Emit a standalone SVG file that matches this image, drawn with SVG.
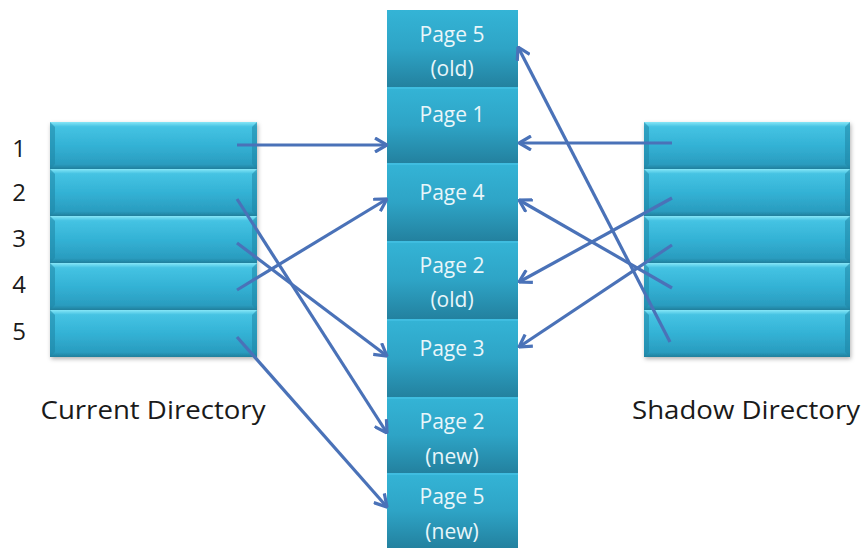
<svg xmlns="http://www.w3.org/2000/svg" width="868" height="548" viewBox="0 0 868 548">
<defs>
<linearGradient id="rowG" x1="0" y1="0" x2="0" y2="1">
<stop offset="0" stop-color="#86e6f7"/>
<stop offset="0.1" stop-color="#45c3e3"/>
<stop offset="0.5" stop-color="#33b2d5"/>
<stop offset="0.9" stop-color="#2a9cbf"/>
<stop offset="1" stop-color="#1f7f9c"/>
</linearGradient>
<linearGradient id="cellG" x1="0" y1="0" x2="0" y2="1">
<stop offset="0" stop-color="#34b4d6"/>
<stop offset="0.5" stop-color="#2ea4c6"/>
<stop offset="1" stop-color="#23819f"/>
</linearGradient>
<filter id="sh" x="-10%" y="-10%" width="120%" height="120%">
<feDropShadow dx="1" dy="2" stdDeviation="2" flood-color="#000" flood-opacity="0.3"/>
</filter>
<marker id="ah" viewBox="0 0 14 16" refX="13" refY="8" markerWidth="14" markerHeight="16" markerUnits="userSpaceOnUse" orient="auto">
<path d="M1,1 L13,8 L1,15" fill="none" stroke="#4a72b8" stroke-width="3.2" stroke-linejoin="miter"/>
</marker>
</defs>
<style>
.row{fill:url(#rowG)}
.bev{fill:#1f86a6;opacity:0.55}
.cell{fill:url(#cellG)}
.sep{fill:#3fbde0}
.pt{font-family:"Open Sans","Liberation Sans",sans-serif;font-size:21px;fill:#e9f6fa;text-anchor:middle}
.num{font-family:"Open Sans","Liberation Sans",sans-serif;font-size:24px;fill:#1a1a1a;text-anchor:middle}
.lab{font-family:"Open Sans","Liberation Sans",sans-serif;font-size:25px;fill:#1a1a1a;text-anchor:middle}
.con{stroke:#4a72b8;stroke-width:3.2;fill:none;marker-end:url(#ah)}
</style>
<rect width="868" height="548" fill="#ffffff"/>

<g id="current-directory">
<g filter="url(#sh)">
<rect class="row" x="50" y="122" width="207" height="47"/>
<rect class="row" x="50" y="169" width="207" height="47"/>
<rect class="row" x="50" y="216" width="207" height="47"/>
<rect class="row" x="50" y="263" width="207" height="47"/>
<rect class="row" x="50" y="310" width="207" height="47"/>
</g>
<g class="bev">
<polygon points="50,122 55,127 55,164 50,169"/><polygon points="257,122 252,127 252,164 257,169"/>
<polygon points="50,169 55,174 55,211 50,216"/><polygon points="257,169 252,174 252,211 257,216"/>
<polygon points="50,216 55,221 55,258 50,263"/><polygon points="257,216 252,221 252,258 257,263"/>
<polygon points="50,263 55,268 55,305 50,310"/><polygon points="257,263 252,268 252,305 257,310"/>
<polygon points="50,310 55,315 55,352 50,357"/><polygon points="257,310 252,315 252,352 257,357"/>
</g>
<text class="num" x="19" y="157">1</text>
<text class="num" x="19" y="201">2</text>
<text class="num" x="19" y="247">3</text>
<text class="num" x="19" y="293">4</text>
<text class="num" x="19" y="340">5</text>
<text class="lab" x="153" y="419" textLength="225" lengthAdjust="spacingAndGlyphs">Current Directory</text>
</g>

<g id="shadow-directory">
<g filter="url(#sh)">
<rect class="row" x="644" y="122" width="206" height="47"/>
<rect class="row" x="644" y="169" width="206" height="47"/>
<rect class="row" x="644" y="216" width="206" height="47"/>
<rect class="row" x="644" y="263" width="206" height="47"/>
<rect class="row" x="644" y="310" width="206" height="47"/>
</g>
<g class="bev">
<polygon points="644,122 649,127 649,164 644,169"/><polygon points="850,122 845,127 845,164 850,169"/>
<polygon points="644,169 649,174 649,211 644,216"/><polygon points="850,169 845,174 845,211 850,216"/>
<polygon points="644,216 649,221 649,258 644,263"/><polygon points="850,216 845,221 845,258 850,263"/>
<polygon points="644,263 649,268 649,305 644,310"/><polygon points="850,263 845,268 845,305 850,310"/>
<polygon points="644,310 649,315 649,352 644,357"/><polygon points="850,310 845,315 845,352 850,357"/>
</g>
<text class="lab" x="746" y="419" textLength="228" lengthAdjust="spacingAndGlyphs">Shadow Directory</text>
</g>

<g id="page5-old"><rect class="cell" x="387" y="10" width="131" height="77"/><text class="pt" x="452" y="42">Page 5</text><text class="pt" x="452" y="76">(old)</text></g>
<g id="page1"><rect class="cell" x="387" y="87" width="131" height="76"/><rect class="sep" x="387" y="87" width="131" height="2"/><text class="pt" x="452" y="122">Page 1</text></g>
<g id="page4"><rect class="cell" x="387" y="163" width="131" height="78"/><rect class="sep" x="387" y="163" width="131" height="2"/><text class="pt" x="452" y="200">Page 4</text></g>
<g id="page2-old"><rect class="cell" x="387" y="241" width="131" height="78"/><rect class="sep" x="387" y="241" width="131" height="2"/><text class="pt" x="452" y="273">Page 2</text><text class="pt" x="452" y="307">(old)</text></g>
<g id="page3"><rect class="cell" x="387" y="319" width="131" height="78"/><rect class="sep" x="387" y="319" width="131" height="2"/><text class="pt" x="452" y="356">Page 3</text></g>
<g id="page2-new"><rect class="cell" x="387" y="397" width="131" height="76"/><rect class="sep" x="387" y="397" width="131" height="2"/><text class="pt" x="452" y="429">Page 2</text><text class="pt" x="452" y="464">(new)</text></g>
<g id="page5-new"><rect class="cell" x="387" y="473" width="131" height="75"/><rect class="sep" x="387" y="473" width="131" height="2"/><text class="pt" x="452" y="504">Page 5</text><text class="pt" x="452" y="539">(new)</text></g>

<g id="connectors">
<line class="con" x1="237" y1="145" x2="387" y2="145"/>
<line class="con" x1="237" y1="199" x2="387" y2="433"/>
<line class="con" x1="237" y1="243" x2="387" y2="356"/>
<line class="con" x1="237" y1="290" x2="387" y2="199"/>
<line class="con" x1="237" y1="337" x2="387" y2="507"/>
<line class="con" x1="672" y1="143" x2="519" y2="143"/>
<line class="con" x1="672" y1="198" x2="519" y2="282"/>
<line class="con" x1="672" y1="245" x2="519" y2="347"/>
<line class="con" x1="672" y1="288" x2="519" y2="200"/>
<line class="con" x1="670" y1="342" x2="518" y2="47"/>
</g>
</svg>
